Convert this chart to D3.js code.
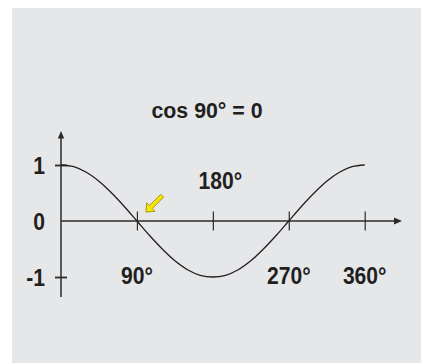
<!DOCTYPE html>
<html><head><meta charset="utf-8">
<script src="https://cdn.jsdelivr.net/npm/d3@7"></script>
<style>
html,body{margin:0;padding:0;background:#fff;}
text{font-family:"Liberation Sans",Arial,Helvetica,sans-serif;font-weight:bold;fill:#231f20;}
</style></head><body>
<script>
// data
const title = "cos 90° = 0";
const angles = [0,15,30,45,60,75,90,105,120,135,150,165,180,195,210,225,240,255,270,285,300,315,330,345,360];
const values = [1,0.97,0.87,0.71,0.5,0.26,0,-0.26,-0.5,-0.71,-0.87,-0.97,-1,-0.97,-0.87,-0.71,-0.5,-0.26,0,0.26,0.5,0.71,0.87,0.97,1];
const xTicks = [90,180,270,360];
const xTickLabels = ["90°","180°","270°","360°"];
const yTicks = [1,0,-1];
const yTickLabels = ["1","0","-1"];
const markedAngle = 90;

const W=421,H=363;
const svg=d3.select("body").append("svg").attr("width",W).attr("height",H);
svg.append("rect").attr("x",12).attr("y",8).attr("width",W-12).attr("height",H-8).attr("fill","#e6e7e9");

const x=d3.scaleLinear().domain([0,360]).range([61,364.7]);
const y=d3.scaleLinear().domain([-1,1]).range([277,165]);
const ink="#2b2b2b";

// title
svg.append("text").attr("transform",`translate(207,118) scale(0.97,1)`).attr("text-anchor","middle")
  .style("font-size","22px").text(title);

// x axis line with arrow
const ax=svg.append("g");
ax.append("line").attr("x1",x(0)).attr("x2",396).attr("y1",y(0)).attr("y2",y(0)).attr("stroke",ink).attr("stroke-width",1.5);
ax.append("path").attr("d",`M402,${y(0)} L394,${y(0)-3.5} L394,${y(0)+3.5} Z`).attr("fill",ink);
// y axis line with arrow
ax.append("line").attr("x1",x(0)).attr("x2",x(0)).attr("y1",297).attr("y2",137).attr("stroke",ink).attr("stroke-width",1.5);
ax.append("path").attr("d",`M${x(0)},131 L${x(0)-3.2},138.5 L${x(0)+3.2},138.5 Z`).attr("fill",ink);

// x ticks via d3 axis
const gx=svg.append("g").attr("transform",`translate(0,${y(0)})`)
  .call(d3.axisBottom(x).tickValues(xTicks).tickSize(10).tickFormat(""));
gx.select(".domain").remove();
gx.selectAll(".tick line").attr("y1",-9.5).attr("y2",9.5).attr("stroke",ink).attr("stroke-width",1.2);

// y ticks via d3 axis
const gy=svg.append("g").attr("transform",`translate(${x(0)},0)`)
  .call(d3.axisLeft(y).tickValues(yTicks.filter(d=>d!==0)).tickSize(6).tickFormat(""));
gy.select(".domain").remove();
gy.selectAll(".tick line").attr("x1",-6).attr("x2",6).attr("stroke",ink).attr("stroke-width",1.8);

// x tick labels
xTicks.forEach((t,i)=>{
  const above = t===180;
  const tx = above ? x(t)+7.5 : x(t);
  const ty = above ? 189 : 284;
  svg.append("text").attr("transform",`translate(${tx},${ty}) scale(0.88,1)`)
    .attr("text-anchor","middle").style("font-size","24px").text(xTickLabels[i]);
});
// y tick labels
yTicks.forEach((t,i)=>{
  svg.append("text").attr("transform",`translate(45,${y(t)+8.5}) scale(0.88,1)`)
    .attr("text-anchor","end").style("font-size","24px").text(yTickLabels[i]);
});

// curve
const pts=angles.map((a,i)=>[a,values[i]]);
svg.append("path").datum(pts)
  .attr("d",d3.line().x(d=>x(d[0])).y(d=>y(d[1])).curve(d3.curveCatmullRom.alpha(0.5)))
  .attr("fill","none").attr("stroke","#231f20").attr("stroke-width",1.3);

// yellow pointer arrow at the zero crossing
svg.append("path")
  .attr("transform",`translate(${x(markedAngle)+9},${y(0)-9}) rotate(135)`)
  .attr("d","M0,0 L-7,-6 L-7,-2 L-23,-2 L-23,2 L-7,2 L-7,6 Z")
  .attr("fill","#f6e500").attr("stroke","#9a8a00").attr("stroke-width",0.8).attr("stroke-linejoin","miter");
</script></body></html>
